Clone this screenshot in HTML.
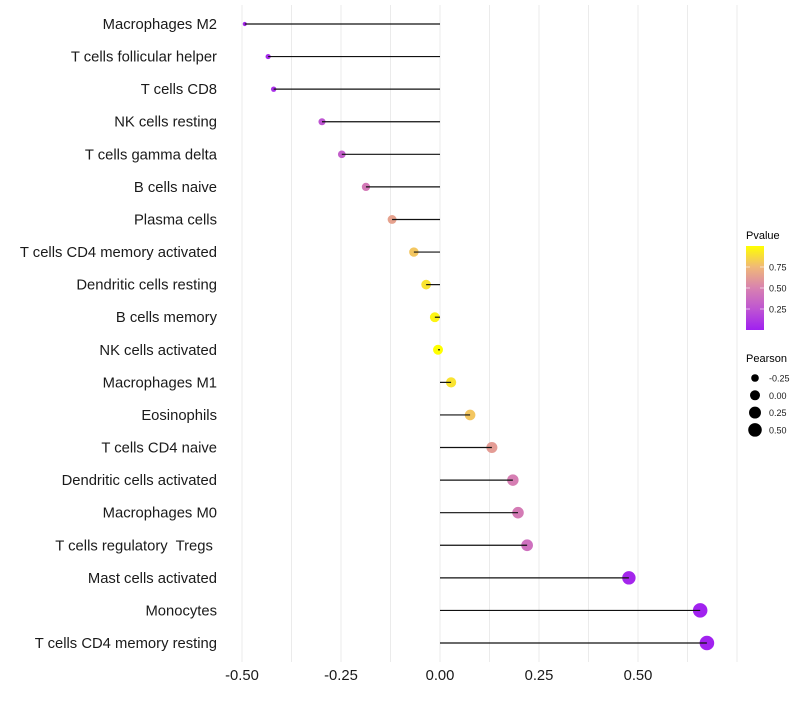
<!DOCTYPE html>
<html><head><meta charset="utf-8"><style>
body{margin:0;background:#fff;}
svg text{font-family:"Liberation Sans",sans-serif;white-space:pre;}
</style></head><body>
<svg id="chart" width="800" height="700" xmlns="http://www.w3.org/2000/svg">
<defs><linearGradient id="pg" x1="0" y1="1" x2="0" y2="0">
<stop offset="0" stop-color="#A020F0"/><stop offset="0.25" stop-color="#BE55D2"/><stop offset="0.5" stop-color="#D882B0"/><stop offset="0.75" stop-color="#F0B878"/><stop offset="1" stop-color="#FFFF00"/></linearGradient></defs>
<g id="grid"></g>
<g id="rows"></g>
<g id="xaxis"></g>
<g>
<text x="746" y="239" font-size="11" fill="#000">Pvalue</text>
<rect x="746" y="246" width="18" height="84" fill="url(#pg)"/>
<g id="cbticks"></g>
</g>
<g id="sizeleg">
<text x="746" y="362" font-size="11" fill="#000">Pearson</text>
</g>
</svg>
<script>
const categories=["Macrophages M2","T cells follicular helper","T cells CD8","NK cells resting","T cells gamma delta","B cells naive","Plasma cells","T cells CD4 memory activated","Dendritic cells resting","B cells memory","NK cells activated","Macrophages M1","Eosinophils","T cells CD4 naive","Dendritic cells activated","Macrophages M0","T cells regulatory  Tregs ","Mast cells activated","Monocytes","T cells CD4 memory resting"];
const pearson=[-0.493,-0.434,-0.42,-0.298,-0.248,-0.187,-0.121,-0.066,-0.035,-0.013,-0.005,0.028,0.076,0.131,0.184,0.197,0.22,0.477,0.657,0.674];
const pvalue=[0.04,0.05,0.07,0.25,0.3,0.45,0.65,0.8,0.9,0.96,1.0,0.9,0.8,0.62,0.48,0.46,0.4,0.03,0.01,0.01];
const xTicks=[-0.5,-0.25,0,0.25,0.5];
const xTickLabels=["-0.50","-0.25","0.00","0.25","0.50"];
const cbTicks=[0.25,0.5,0.75];
const sizeLegendValues=[-0.25,0,0.25,0.5];
const sizeLegendLabels=["-0.25","0.00","0.25","0.50"];

const NS="http://www.w3.org/2000/svg";
const xs=v=>440+396*v;
const ys=i=>24+i*(619/19);
const rs=v=>Math.sqrt(Math.max(1,25+42*v));
const stops=[[0,[160,32,240]],[0.25,[190,85,210]],[0.5,[216,130,176]],[0.75,[240,184,120]],[1,[255,255,0]]];
function col(p){for(let i=1;i<stops.length;i++){if(p<=stops[i][0]){const a=stops[i-1],b=stops[i],t=(p-a[0])/(b[0]-a[0]);const c=a[1].map((x,k)=>Math.round(x+(b[1][k]-x)*t));return `rgb(${c})`;}}return "rgb(255,255,0)";}
function mk(tag,at,parent){const e=document.createElementNS(NS,tag);for(const k in at)e.setAttribute(k,at[k]);parent.appendChild(e);return e;}
const grid=document.getElementById('grid');
for(let v=-0.5;v<=0.75;v+=0.125){const g=mk('line',{x1:xs(v),x2:xs(v),y1:5,y2:662,stroke:'#ebebeb','stroke-width':1},grid);

}
const rows=document.getElementById('rows');
categories.forEach((c,i)=>{
const y=ys(i);
const t=mk('text',{x:217,y:y+5,'text-anchor':'end','font-size':14.8,fill:'#1a1a1a'},rows);t.textContent=c;


const p=mk('circle',{cx:xs(pearson[i]),cy:y,r:rs(pearson[i]),fill:col(pvalue[i])},rows);


const l=mk('line',{x1:xs(0),x2:xs(pearson[i]),y1:y,y2:y,stroke:'#111','stroke-width':1.2},rows);


});
const xa=document.getElementById('xaxis');
xTicks.forEach((v,i)=>{const t=mk('text',{x:xs(v),y:680,'text-anchor':'middle','font-size':14.8,fill:'#1a1a1a'},xa);t.textContent=xTickLabels[i];

});
const cb=document.getElementById('cbticks');
cbTicks.forEach(v=>{const y=330-84*v;
mk('line',{x1:746,x2:750,y1:y,y2:y,stroke:'#fff','stroke-width':0.6},cb);
mk('line',{x1:760,x2:764,y1:y,y2:y,stroke:'#fff','stroke-width':0.6},cb);
const t=mk('text',{x:769,y:y+3.5,'font-size':9,fill:'#1a1a1a'},cb);t.textContent=v.toFixed(2);

});
const sl=document.getElementById('sizeleg');
sizeLegendValues.forEach((v,i)=>{const y=378+i*17.3;
const c=mk('circle',{cx:755,cy:y,r:rs(v),fill:'#000'},sl);


const t=mk('text',{x:769,y:y+3.5,'font-size':9,fill:'#1a1a1a'},sl);t.textContent=sizeLegendLabels[i];

});
</script>
</body></html>
